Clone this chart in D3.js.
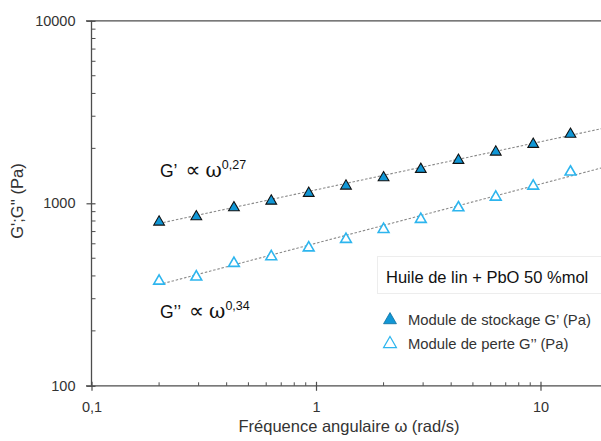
<!DOCTYPE html>
<html>
<head>
<meta charset="utf-8">
<script src="https://cdn.jsdelivr.net/npm/d3@7"></script>
<style>
  body { margin: 0; background: #fff; }
  svg { display: block; font-family: "Liberation Sans", Arial, sans-serif; }
</style>
</head>
<body>
<div id="chart"></div>
<script>
// data
const omega = [0.2, 0.293, 0.431, 0.632, 0.928, 1.36, 2.0, 2.93, 4.31, 6.32, 9.28, 13.6];
const gPrime = [800, 855, 958, 1042, 1149, 1260, 1399, 1555, 1743, 1935, 2133, 2421];
const gSecond = [380, 400, 475, 517, 578, 643, 729, 828, 958, 1096, 1260, 1504];
const xMajor = [0.1, 1, 10];
const yMajor = [100, 1000, 10000];
const xTickLabels = ['0,1', '1', '10'];
const yTickLabels = ['100', '1000', '10000'];
const exponents = ['0,27', '0,34'];
const legendTitle = 'Huile de lin + PbO 50 %mol';
const seriesNames = ['Module de stockage G\u2019 (Pa)', 'Module de perte G\u2019\u2019 (Pa)'];

// svg領域
const svgWidth = 601;
const svgHeight = 441;
const svg = d3.select('#chart')
  .append('svg')
  .attr('width', svgWidth)
  .attr('height', svgHeight);

const x = d3.scaleLog().domain([0.1, 18.6]).range([91.5, 601]);
const y = d3.scaleLog().domain([100, 10000]).range([385.8, 20.8]);
const axisColor = '#4d4d4d';
const blue = '#1197d6';
const lightBlue = '#2db5ee';

// minor ticks
const minorX = [];
const minorY = [];
[0.1, 1, 10].forEach(d => { for (let k = 2; k <= 9; k++) if (d * k < 18.6) minorX.push(d * k); });
[100, 1000].forEach(d => { for (let k = 2; k <= 9; k++) minorY.push(d * k); });

// x axis
const xAxisG = svg.append('g')
  .attr('transform', `translate(0,${y(100)})`)
  .call(d3.axisBottom(x).tickValues(xMajor).tickSize(5).tickFormat((d, i) => xTickLabels[i]));
xAxisG.select('.domain').remove();
xAxisG.selectAll('.tick line').attr('y1', -4).attr('stroke', axisColor).attr('stroke-width', 1.2);
xAxisG.selectAll('.tick text')
  .attr('dy', 0)
  .attr('y', 26)
  .attr('font-size', 14.5)
  .attr('font-family', '"Liberation Sans", Arial, sans-serif')
  .attr('fill', '#333');
svg.append('g')
  .selectAll('line')
  .data(minorX)
  .join('line')
  .attr('x1', d => x(d)).attr('x2', d => x(d))
  .attr('y1', y(100) - 3.5).attr('y2', y(100))
  .attr('stroke', axisColor).attr('stroke-width', 1);
svg.append('line')
  .attr('x1', 86).attr('x2', 601)
  .attr('y1', y(100)).attr('y2', y(100))
  .attr('stroke', axisColor).attr('stroke-width', 1.3);

// y axis
const yAxisG = svg.append('g')
  .attr('transform', `translate(${x(0.1)},0)`)
  .call(d3.axisLeft(y).tickValues(yMajor).tickSize(5).tickFormat((d, i) => yTickLabels[i]));
yAxisG.select('.domain').remove();
yAxisG.selectAll('.tick line').attr('x1', 4).attr('stroke', axisColor).attr('stroke-width', 1.2);
yAxisG.selectAll('.tick text')
  .attr('x', -16)
  .attr('font-size', 14.5)
  .attr('font-family', '"Liberation Sans", Arial, sans-serif')
  .attr('fill', '#333');
svg.append('g')
  .selectAll('line')
  .data(minorY)
  .join('line')
  .attr('x1', x(0.1)).attr('x2', x(0.1) + 4)
  .attr('y1', d => y(d)).attr('y2', d => y(d))
  .attr('stroke', axisColor).attr('stroke-width', 1);
svg.append('line')
  .attr('x1', x(0.1)).attr('x2', x(0.1))
  .attr('y1', y(10000)).attr('y2', y(100))
  .attr('stroke', axisColor).attr('stroke-width', 1.3);
// top border
svg.append('line')
  .attr('x1', 86).attr('x2', 601)
  .attr('y1', y(10000)).attr('y2', y(10000))
  .attr('stroke', axisColor).attr('stroke-width', 1.3);

// axis titles
svg.append('text')
  .attr('x', 349).attr('y', 432)
  .attr('text-anchor', 'middle')
  .attr('font-size', 16.5)
  .attr('fill', '#333')
  .text('Fréquence angulaire ω (rad/s)');
svg.append('text')
  .attr('transform', 'translate(23,201) rotate(-90)')
  .attr('text-anchor', 'middle')
  .attr('font-size', 16.5)
  .attr('fill', '#333')
  .text('G\';G\'\' (Pa)');

// power-law trend lines (least squares in log-log)
function fit(xs, ys) {
  const lx = xs.map(Math.log10);
  const ly = ys.map(Math.log10);
  const mx = d3.mean(lx);
  const my = d3.mean(ly);
  const b = d3.sum(lx, (v, i) => (v - mx) * (ly[i] - my)) / d3.sum(lx, v => (v - mx) ** 2);
  const a = my - b * mx;
  return w => Math.pow(10, a + b * Math.log10(w));
}
[gPrime, gSecond].forEach(vals => {
  const f = fit(omega, vals);
  const ends = [omega[0], x.domain()[1]];
  svg.append('line')
    .attr('x1', x(ends[0])).attr('y1', y(f(ends[0])))
    .attr('x2', x(ends[1])).attr('y2', y(f(ends[1])))
    .attr('stroke', '#8a8a8a')
    .attr('stroke-width', 1.1)
    .attr('stroke-dasharray', '2.5,1.8');
});

// markers
const tri = d3.symbol().type(d3.symbolTriangle).size(50);
svg.append('g')
  .selectAll('path')
  .data(omega.map((w, i) => [w, gSecond[i]]))
  .join('path')
  .attr('d', tri)
  .attr('transform', d => `translate(${x(d[0])},${y(d[1]) + 1})`)
  .attr('fill', '#fff')
  .attr('stroke', lightBlue)
  .attr('stroke-width', 1.6);
svg.append('g')
  .selectAll('path')
  .data(omega.map((w, i) => [w, gPrime[i]]))
  .join('path')
  .attr('d', tri)
  .attr('transform', d => `translate(${x(d[0])},${y(d[1]) + 1})`)
  .attr('fill', blue)
  .attr('stroke', '#111')
  .attr('stroke-width', 1.1);

// annotations
const notes = [
  { label: 'G\u2019', exp: exponents[0], x: 160, y: 177 },
  { label: 'G\u2019\u2019', exp: exponents[1], x: 160, y: 318 }
];
notes.forEach(n => {
  const t = svg.append('text')
    .attr('x', n.x).attr('y', n.y)
    .attr('font-size', 17.5)
    .attr('fill', '#111');
  t.append('tspan').text(n.label);
  t.append('tspan')
    .attr('dx', 8)
    .attr('font-family', '"DejaVu Sans", sans-serif')
    .attr('font-size', 21)
    .text('\u221d');
  t.append('tspan')
    .attr('dx', 5)
    .attr('font-family', '"DejaVu Serif", serif')
    .attr('font-size', 20)
    .text('ω');
  t.append('tspan')
    .attr('dy', -8.5)
    .attr('font-size', 12.5)
    .text(n.exp);
});

// legend
svg.append('rect')
  .attr('x', 377.5).attr('y', 256.5)
  .attr('width', 230).attr('height', 37)
  .attr('fill', 'none')
  .attr('stroke', '#ededed');
svg.append('text')
  .attr('x', 386).attr('y', 283)
  .attr('font-size', 16.5)
  .attr('fill', '#111')
  .text(legendTitle);
const legendRows = svg.append('g')
  .selectAll('g')
  .data(seriesNames)
  .join('g')
  .attr('transform', (d, i) => `translate(390,${320 + i * 24})`);
legendRows.append('path')
  .attr('d', d3.symbol().type(d3.symbolTriangle).size(72))
  .attr('fill', (d, i) => i === 0 ? blue : '#fff')
  .attr('stroke', (d, i) => i === 0 ? '#0c6f9e' : lightBlue)
  .attr('stroke-width', (d, i) => i === 0 ? 0.8 : 1.2);
legendRows.append('text')
  .attr('x', 18).attr('y', 5)
  .attr('font-size', 14.8)
  .attr('fill', '#333')
  .text(d => d);
</script>
</body>
</html>
